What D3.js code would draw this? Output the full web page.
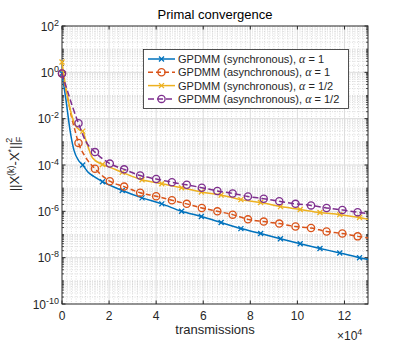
<!DOCTYPE html>
<html>
<head>
<meta charset="utf-8">
<script src="https://cdn.jsdelivr.net/npm/d3@7"></script>
<style>
  body { margin: 0; background: #fff; }
  text { font-family: "Liberation Sans", Arial, Helvetica, sans-serif; fill: #262626; }
</style>
</head>
<body>
<svg id="chart" width="407" height="344"></svg>
<script>
// ── Data (x in transmissions, y = ||X(k)-X*||_F^2) ──
const xTicks = [0, 20000, 40000, 60000, 80000, 100000, 120000];
const yTicks = [1e-10, 1e-8, 1e-6, 1e-4, 1e-2, 1, 1e2];

const legendLabels = [
  "GPDMM (synchronous), ",
  "GPDMM (asynchronous), ",
  "GPDMM (synchronous), ",
  "GPDMM (asynchronous), "
];
const legendAlpha = ["1", "1", "1/2", "1/2"];

// where the markers sit
const syncMarkT = [0, 8800, 17200, 25600, 34000, 42400, 50800, 59200, 67600, 76000, 84400, 92800, 101200, 109600, 118000, 126400];
const asyncMarkT = [0, 7000, 14000, 20300, 26400, 33200, 40000, 46700, 53000, 59400, 66000, 72500, 79000, 85700, 92300, 99200, 105800, 112400, 119100, 125600];

// synchronous, alpha = 1
const syncA1T = [0, 1700, 3400, 5100, 7000, 8800, 11000, 13500, 17200, 25600, 34000, 42400, 50800, 59200, 67600, 76000, 84400, 92800, 101200, 109600, 118000, 126400, 130000];
const syncA1V = [0.89, 0.063, 3.2e-3, 4.3e-4, 1.6e-4, 1.0e-4, 5.0e-5, 3.2e-5, 1.9e-5, 7.9e-6, 3.8e-6, 2.1e-6, 1.0e-6, 6.0e-7, 3.3e-7, 1.8e-7, 1.1e-7, 6.6e-8, 4.0e-8, 2.5e-8, 1.6e-8, 1.0e-8, 8.3e-9];

// asynchronous, alpha = 1
const asyncA1T = [0, 2000, 4000, 5500, 7000, 10000, 14000, 20300, 26400, 33200, 40000, 46700, 53000, 59400, 66000, 72500, 79000, 85700, 92300, 99200, 105800, 112400, 119100, 125600, 130000];
const asyncA1V = [0.89, 0.126, 0.0126, 3.2e-3, 8.9e-4, 2.2e-4, 6.9e-5, 2.0e-5, 1.17e-5, 6.3e-6, 4.5e-6, 3.0e-6, 2.1e-6, 1.4e-6, 1.0e-6, 7.2e-7, 4.5e-7, 3.6e-7, 2.95e-7, 2.2e-7, 1.9e-7, 1.35e-7, 1.1e-7, 8.3e-8, 7.1e-8];

// synchronous, alpha = 1/2
const syncA2T = [0, 1500, 3500, 5500, 7500, 8800, 10000, 13000, 17200, 20400, 25600, 34000, 42400, 50800, 59200, 67600, 76000, 84400, 92800, 101200, 109600, 118000, 126400, 130000];
const syncA2V = [2.8, 0.25, 0.025, 5.5e-3, 3.2e-3, 2.9e-3, 1.3e-3, 2.0e-4, 1.05e-4, 7.9e-5, 4.8e-5, 2.3e-5, 1.55e-5, 1.05e-5, 6.8e-6, 5.0e-6, 3.2e-6, 2.4e-6, 1.6e-6, 1.2e-6, 8.9e-7, 7.2e-7, 5.4e-7, 4.5e-7];

// asynchronous, alpha = 1/2
const asyncA2T = [0, 2000, 4500, 7000, 10000, 14000, 20300, 26400, 33200, 40000, 46700, 53000, 59400, 66000, 72500, 79000, 85700, 92300, 99200, 105800, 112400, 119100, 125600, 130000];
const asyncA2V = [0.89, 0.2, 0.032, 6.3e-3, 1.1e-3, 3.6e-4, 1.15e-4, 6.5e-5, 3.5e-5, 2.5e-5, 1.8e-5, 1.4e-5, 1.05e-5, 7.6e-6, 5.9e-6, 4.4e-6, 3.5e-6, 2.75e-6, 2.1e-6, 1.8e-6, 1.4e-6, 1.15e-6, 9.1e-7, 7.9e-7];

const series = [
  { t: syncA1T, v: syncA1V, marks: syncMarkT, color: "#0072BD", dash: null, marker: "x" },
  { t: asyncA1T, v: asyncA1V, marks: asyncMarkT, color: "#D95319", dash: "5,3", marker: "o" },
  { t: syncA2T, v: syncA2V, marks: syncMarkT, color: "#EDB120", dash: null, marker: "x" },
  { t: asyncA2T, v: asyncA2V, marks: asyncMarkT, color: "#7E2F8E", dash: "6,3", marker: "o" }
];

// ── Layout ──
const L = 62, R = 368, T = 26, B = 304;
const svg = d3.select("#chart");

const x = d3.scaleLinear().domain([0, 130000]).range([L, R]);
const y = d3.scaleLog().domain([1e-10, 1e2]).range([B, T]);

// ── Grid ──
const grid = svg.append("g");

const xMinor = d3.range(2000, 130000, 2000).filter(d => d % 20000 !== 0);
grid.selectAll(".xminor").data(xMinor).join("line")
  .attr("x1", d => x(d)).attr("x2", d => x(d))
  .attr("y1", T).attr("y2", B)
  .attr("stroke", "#c4c4c4").attr("stroke-width", 0.6)
  .attr("stroke-dasharray", "1,1.5");

const yMinor = [];
for (let k = -10; k < 2; k++) {
  for (let m = 1; m <= 9; m++) {
    if (m === 1 && k % 2 === 0) continue;
    yMinor.push(m * Math.pow(10, k));
  }
}
grid.selectAll(".yminor").data(yMinor).join("line")
  .attr("x1", L).attr("x2", R)
  .attr("y1", d => y(d)).attr("y2", d => y(d))
  .attr("stroke", "#c4c4c4").attr("stroke-width", 0.6)
  .attr("stroke-dasharray", "1,1.5");

grid.selectAll(".xmajor").data(xTicks.slice(1)).join("line")
  .attr("x1", d => x(d)).attr("x2", d => x(d))
  .attr("y1", T).attr("y2", B)
  .attr("stroke", "#dcdcdc").attr("stroke-width", 1);

grid.selectAll(".ymajor").data(yTicks.slice(1, -1)).join("line")
  .attr("x1", L).attr("x2", R)
  .attr("y1", d => y(d)).attr("y2", d => y(d))
  .attr("stroke", "#dcdcdc").attr("stroke-width", 1);

// ── Axes box and ticks ──
const ax = svg.append("g").attr("stroke", "#262626");
ax.append("rect").attr("x", L).attr("y", T).attr("width", R - L).attr("height", B - T)
  .attr("fill", "none").attr("stroke-width", 1);

xTicks.forEach(d => {
  ax.append("line").attr("x1", x(d)).attr("x2", x(d)).attr("y1", B).attr("y2", B - 3.5);
  ax.append("line").attr("x1", x(d)).attr("x2", x(d)).attr("y1", T).attr("y2", T + 3.5);
});
yTicks.forEach(d => {
  ax.append("line").attr("x1", L).attr("x2", L + 3.5).attr("y1", y(d)).attr("y2", y(d));
  ax.append("line").attr("x1", R).attr("x2", R - 3.5).attr("y1", y(d)).attr("y2", y(d));
});
yMinor.forEach(d => {
  ax.append("line").attr("x1", L).attr("x2", L + 2).attr("y1", y(d)).attr("y2", y(d)).attr("stroke-width", 0.8);
  ax.append("line").attr("x1", R).attr("x2", R - 2).attr("y1", y(d)).attr("y2", y(d)).attr("stroke-width", 0.8);
});

// ── Tick labels ──
svg.append("g").selectAll("text").data(xTicks).join("text")
  .attr("x", d => x(d)).attr("y", B + 16)
  .attr("text-anchor", "middle").style("font-size", "12px")
  .text(d => d / 10000);

const yl = svg.append("g").selectAll("text").data(yTicks).join("text")
  .attr("x", 59).attr("y", d => y(d) + 4.5)
  .attr("text-anchor", "end").style("font-size", "12px");
yl.append("tspan").text("10");
yl.append("tspan").attr("dy", -5).style("font-size", "9px")
  .text(d => Math.round(Math.log10(d)));

const mult = svg.append("text").attr("x", 337).attr("y", 340).style("font-size", "12px");
mult.append("tspan").text("\u00d710");
mult.append("tspan").attr("dy", -5).style("font-size", "9px").text("4");

// ── Title and axis labels ──
svg.append("text").attr("x", 215).attr("y", 19).attr("text-anchor", "middle")
  .style("font-size", "13px").style("fill", "#000").text("Primal convergence");

svg.append("text").attr("x", 215).attr("y", 334).attr("text-anchor", "middle")
  .style("font-size", "13px").text("transmissions");

const ylab = svg.append("text")
  .attr("transform", "translate(19,164) rotate(-90)")
  .attr("text-anchor", "middle").style("font-size", "13px");
ylab.append("tspan").text("||X");
ylab.append("tspan").attr("dy", -5).style("font-size", "9px").text("(k)");
ylab.append("tspan").attr("dy", 5).text("-X");
ylab.append("tspan").attr("dy", -5).style("font-size", "9px").text("*");
ylab.append("tspan").attr("dy", 5).text("||");
ylab.append("tspan").attr("dy", 3).style("font-size", "9px").text("F");
ylab.append("tspan").attr("dx", -6).attr("dy", -10).style("font-size", "9px").text("2");

// ── Lines and markers ──
const line = d3.line()
  .x(d => x(d[0]))
  .y(d => y(d[1]))
  .curve(d3.curveMonotoneX);

function drawMarker(g, kind, cx, cy, color) {
  if (kind === "o") {
    g.append("circle").attr("cx", cx).attr("cy", cy).attr("r", 3.6)
      .attr("fill", "none").attr("stroke", color).attr("stroke-width", 1.3);
  } else {
    const s = 2.5;
    g.append("path")
      .attr("d", `M${cx - s},${cy - s}L${cx + s},${cy + s}M${cx - s},${cy + s}L${cx + s},${cy - s}`)
      .attr("stroke", color).attr("stroke-width", 1.3);
  }
}

const plot = svg.append("g");
series.forEach(s => {
  const pts = s.t.map((t, i) => [t, s.v[i]]);
  plot.append("path")
    .attr("d", line(pts))
    .attr("fill", "none")
    .attr("stroke", s.color)
    .attr("stroke-width", 1.5)
    .attr("stroke-dasharray", s.dash);
  const mg = plot.append("g");
  pts.filter(p => s.marks.includes(p[0]))
    .forEach(p => drawMarker(mg, s.marker, x(p[0]), y(p[1]), s.color));
});

// ── Legend ──
const lg = svg.append("g");
lg.append("rect").attr("x", 143.5).attr("y", 49.5).attr("width", 205).attr("height", 59)
  .attr("fill", "#fff").attr("stroke", "#262626").attr("stroke-width", 0.8);

series.forEach((s, i) => {
  const cy = 59 + i * 13.3;
  lg.append("line").attr("x1", 148).attr("x2", 175).attr("y1", cy).attr("y2", cy)
    .attr("stroke", s.color).attr("stroke-width", 1.5).attr("stroke-dasharray", s.dash);
  drawMarker(lg, s.marker, 161.5, cy, s.color);
  const t = lg.append("text").attr("x", 178).attr("y", cy + 4).style("font-size", "11px");
  t.append("tspan").text(legendLabels[i]);
  t.append("tspan").style("font-family", "'Liberation Serif', 'Times New Roman', serif")
    .style("font-style", "italic").style("font-size", "12px").text("\u03b1");
  t.append("tspan").text(" = " + legendAlpha[i]);
});
</script>
</body>
</html>
